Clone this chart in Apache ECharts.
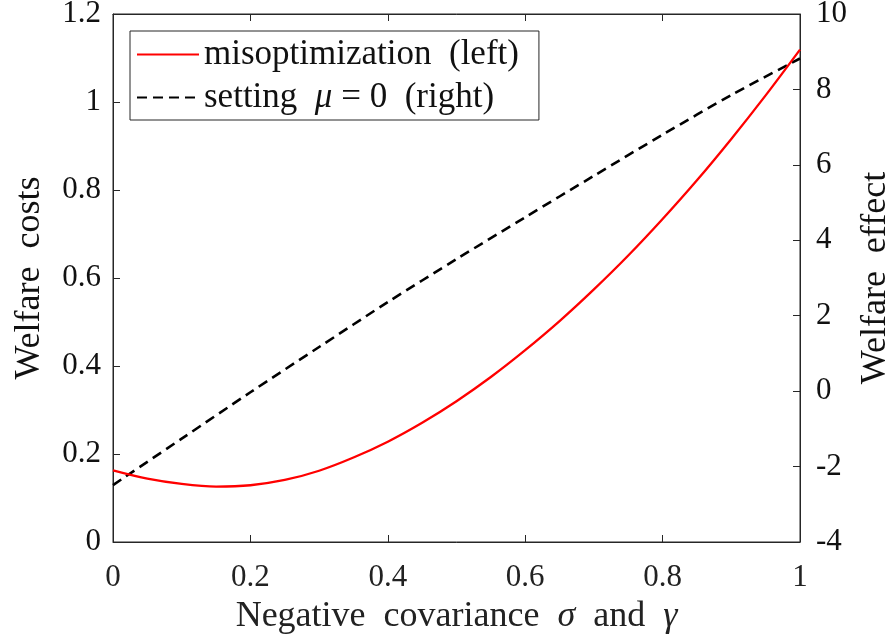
<!DOCTYPE html>
<html>
<head>
<meta charset="utf-8">
<script src="https://cdn.jsdelivr.net/npm/echarts@6/dist/echarts.min.js"></script>
<style>
html,body{margin:0;padding:0;background:#fff;}
#chart{width:890px;height:641px;}
</style>
</head>
<body>
<div id="chart"></div>
<script>
// x values (negative covariance sigma and gamma)
var xRed = [0, 0.05, 0.1, 0.15, 0.2, 0.25, 0.3, 0.35, 0.4, 0.45, 0.5, 0.55, 0.6, 0.65, 0.7, 0.75, 0.8, 0.85, 0.9, 0.95, 1.0];
// misoptimization welfare costs (left axis)
var redVals = [0.163, 0.144, 0.132, 0.126, 0.129, 0.141, 0.162, 0.192, 0.228, 0.271, 0.320, 0.375, 0.436, 0.502, 0.574, 0.651, 0.734, 0.822, 0.916, 1.015, 1.119];
// x values for dashed series
var xBlack = [0, 0.1, 0.2, 0.3, 0.4, 0.5, 0.6, 0.7, 0.8, 0.9, 1.0];
// setting mu = 0 welfare effect (right axis)
var blackVals = [-2.49, -1.26, -0.03, 1.17, 2.36, 3.50, 4.61, 5.71, 6.80, 7.85, 8.82];

var xTicks = [0, 0.2, 0.4, 0.6, 0.8, 1];
var leftTicks = [0, 0.2, 0.4, 0.6, 0.8, 1, 1.2];
var rightTicks = [-4, -2, 0, 2, 4, 6, 8, 10];

var FONT = '"Liberation Serif", "DejaVu Serif", serif';
var AX = '#262626';
var SP = '\u2002';

function pairs(xs, ys){ return xs.map(function(x,i){ return [x, ys[i]]; }); }

var chart = echarts.init(document.getElementById('chart'));
chart.setOption({
  backgroundColor: '#fff',
  animation: false,
  grid: { left: 113, right: 90, top: 14, bottom: 99, outerBoundsMode: 'none', containLabel: false,
          show: true, borderColor: AX, borderWidth: 1, backgroundColor: 'transparent' },
  legend: {
    orient: 'vertical',
    left: 130, top: 31,
    backgroundColor: '#fff',
    borderColor: AX, borderWidth: 1,
    padding: [6, 20, 5, 6],
    itemWidth: 62, itemHeight: 14, itemGap: 8,
    itemStyle: { opacity: 0 },
    textStyle: {
      fontFamily: FONT, fontSize: 35, color: '#111',
      rich: {
        n: { fontFamily: FONT, fontSize: 35, color: '#111' },
        i: { fontFamily: FONT, fontSize: 35, fontStyle: 'italic', color: '#111' }
      }
    },
    formatter: function(name){
      if (name.indexOf('setting') === 0) return '{n|setting' + SP + '}{i|μ}{n| = 0' + SP + '(right)}';
      return '{n|misoptimization' + SP + '(left)}';
    },
    data: ['misoptimization (left)', 'setting μ = 0 (right)']
  },
  xAxis: [{
    type: 'value', min: xTicks[0], max: xTicks[xTicks.length-1], interval: 0.2,
    position: 'bottom',
    name: 'Negative' + SP + 'covariance' + SP + '{i|σ}' + SP + 'and' + SP + '{i|γ}',
    nameLocation: 'middle', nameGap: 57,
    nameTextStyle: { fontFamily: FONT, fontSize: 36, color: '#222',
      rich: { i: { fontFamily: FONT, fontSize: 36, fontStyle: 'italic', color: '#222' } } },
    axisLine: { show: true, onZero: false, lineStyle: { color: AX, width: 1 } },
    axisTick: { show: true, inside: true, length: 7, lineStyle: { color: AX } },
    axisLabel: { fontFamily: FONT, fontSize: 31, color: '#222', margin: 20 },
    splitLine: { show: false }
  }, {
    type: 'value', min: 0, max: 1, interval: 0.2, position: 'top',
    axisLine: { show: true, onZero: false, lineStyle: { color: AX, width: 1 } },
    axisTick: { show: true, inside: true, length: 7, lineStyle: { color: AX } },
    axisLabel: { show: false }, splitLine: { show: false }
  }],
  yAxis: [{
    type: 'value', min: leftTicks[0], max: leftTicks[leftTicks.length-1], interval: 0.2,
    position: 'left',
    name: 'Welfare' + SP + 'costs', nameLocation: 'middle', nameGap: 65,
    nameTextStyle: { fontFamily: FONT, fontSize: 36, color: '#111' },
    axisLine: { show: true, onZero: false, lineStyle: { color: AX, width: 1 } },
    axisTick: { show: true, inside: true, length: 7, lineStyle: { color: AX } },
    axisLabel: { fontFamily: FONT, fontSize: 31, color: '#111', margin: 12 },
    splitLine: { show: false }
  }, {
    type: 'value', min: rightTicks[0], max: rightTicks[rightTicks.length-1], interval: 2,
    position: 'right',
    name: 'Welfare' + SP + 'effect', nameLocation: 'middle', nameGap: 51,
    nameTextStyle: { fontFamily: FONT, fontSize: 36, color: '#111' },
    axisLine: { show: true, onZero: false, lineStyle: { color: AX, width: 1 } },
    axisTick: { show: true, inside: true, length: 7, lineStyle: { color: AX } },
    axisLabel: { fontFamily: FONT, fontSize: 31, color: '#111', margin: 16 },
    splitLine: { show: false }
  }],
  series: [{
    name: 'misoptimization (left)', type: 'line', xAxisIndex: 0, yAxisIndex: 0,
    data: pairs(xRed, redVals), smooth: 0.3, showSymbol: false, symbol: 'none',
    lineStyle: { color: '#ff0000', width: 2.3 }, itemStyle: { color: '#ff0000' }, z: 3
  }, {
    name: 'setting μ = 0 (right)', type: 'line', xAxisIndex: 0, yAxisIndex: 1,
    data: pairs(xBlack, blackVals), smooth: 0.3, showSymbol: false, symbol: 'none',
    lineStyle: { color: '#000', width: 2.6, type: [10, 6] }, itemStyle: { color: '#000' }, z: 2
  }]
});
</script>
</body>
</html>
